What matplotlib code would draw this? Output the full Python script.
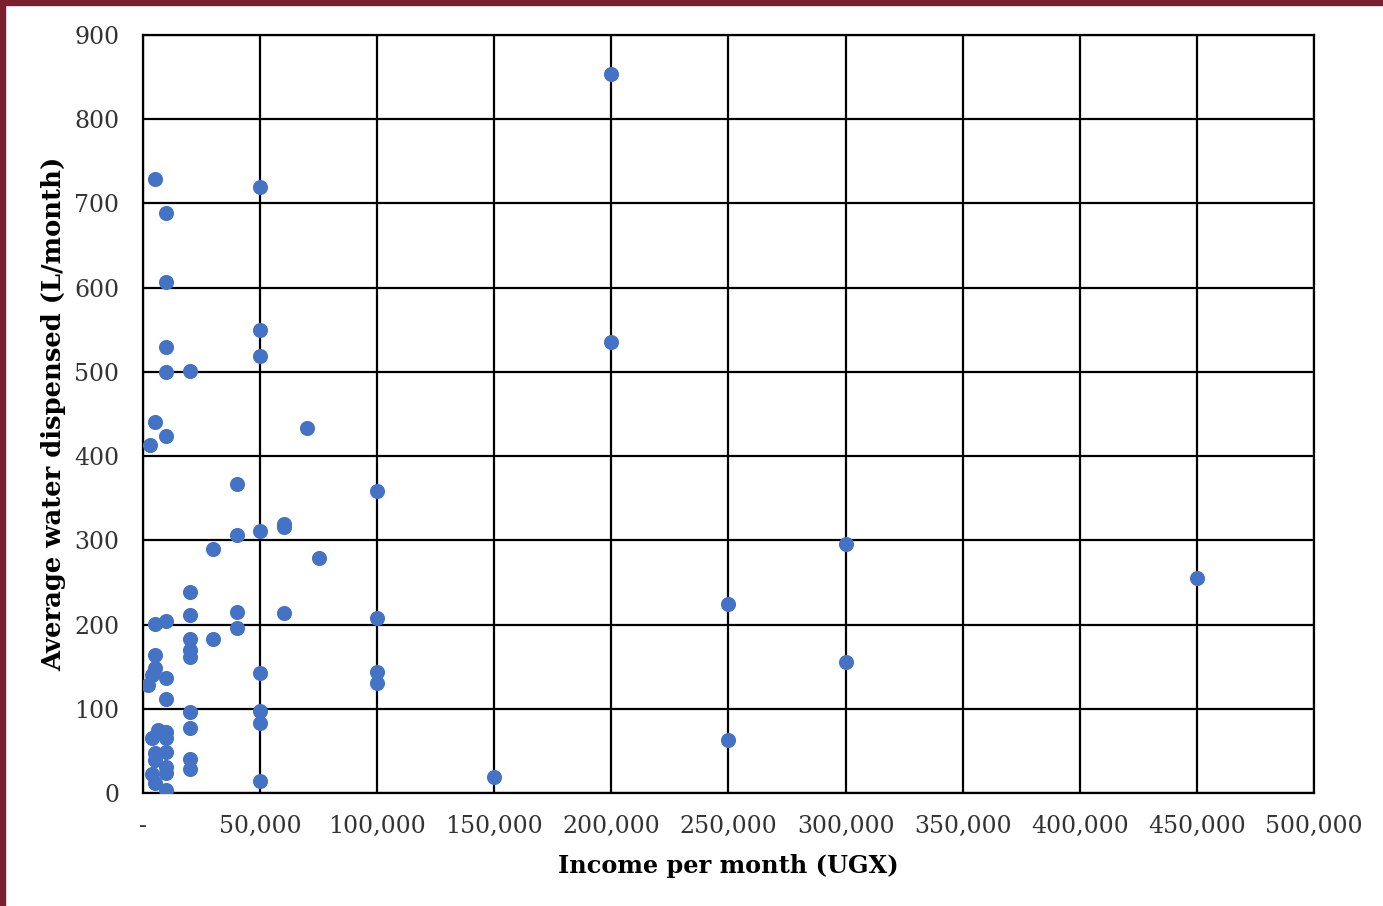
import matplotlib.pyplot as plt
from matplotlib.patches import Rectangle
from matplotlib.ticker import FuncFormatter

# income per month (UGX) and average water dispensed (L/month)
income = [5000, 10000, 10000, 10000, 10000, 20000, 5000, 10000, 3000,
          50000, 50000, 50000, 70000, 40000, 100000, 60000, 60000, 40000,
          50000, 30000, 75000, 200000, 200000, 300000, 450000, 250000,
          300000, 250000, 150000, 100000, 100000, 100000, 50000, 50000,
          50000, 50000, 60000, 40000, 40000, 30000, 20000, 20000, 20000,
          20000, 20000, 20000, 20000, 20000, 20000, 5000, 10000, 5000,
          5000, 4000, 10000, 2000, 10000, 6500, 10000, 4000, 10000, 5000,
          10000, 5000, 10000, 10000, 4000, 5000, 10000]
water = [729, 689, 607, 530, 500, 501, 440, 424, 413,
         720, 550, 519, 433, 367, 359, 319, 316, 306,
         311, 290, 279, 854, 536, 296, 255, 224,
         156, 63, 19, 208, 144, 131, 143, 97,
         83, 14, 214, 215, 196, 183, 239, 211, 183,
         170, 162, 96, 77, 40, 28, 201, 204, 164,
         148, 140, 137, 128, 112, 75, 72, 65, 65, 47,
         49, 39, 31, 24, 22, 12, 3]

x_ticks = list(range(0, 500001, 50000))
y_ticks = list(range(0, 901, 100))

plt.rcParams['font.family'] = ['DejaVu Serif']

fig = plt.figure(figsize=(13.83, 9.06), dpi=100)
ax = fig.add_axes([0.1034, 0.1247, 0.8467, 0.8367])

ax.scatter(income, water, s=118, color='#4472C4', zorder=3, linewidths=0)

ax.set_xlim(0, 500000)
ax.set_ylim(0, 900)
ax.set_xticks(x_ticks)
ax.set_yticks(y_ticks)
ax.xaxis.set_major_formatter(FuncFormatter(lambda v, p: '-' if v == 0 else f'{int(v):,}'))
ax.grid(True, color='black', linewidth=1.6, zorder=1)
ax.set_axisbelow(True)
for s in ax.spines.values():
    s.set_color('black')
    s.set_linewidth(1.6)
ax.tick_params(axis='both', length=0, labelsize=17, labelcolor='#333333')
ax.tick_params(axis='y', pad=17)
ax.tick_params(axis='x', pad=16)

ax.set_xlabel('Income per month (UGX)', fontsize=17.3, fontweight='bold', labelpad=11)
ax.set_ylabel('Average water dispensed (L/month)', fontsize=18.6, fontweight='bold', labelpad=6)

# maroon frame on the left and top edges
border = '#7A1F2E'
fig.patches.append(Rectangle((0, 0), 5 / 1383, 1, transform=fig.transFigure,
                             color=border, zorder=10))
fig.patches.append(Rectangle((0, 1 - 5 / 906), 1, 5 / 906, transform=fig.transFigure,
                             color=border, zorder=10))

fig.savefig('out.png', dpi=100)
